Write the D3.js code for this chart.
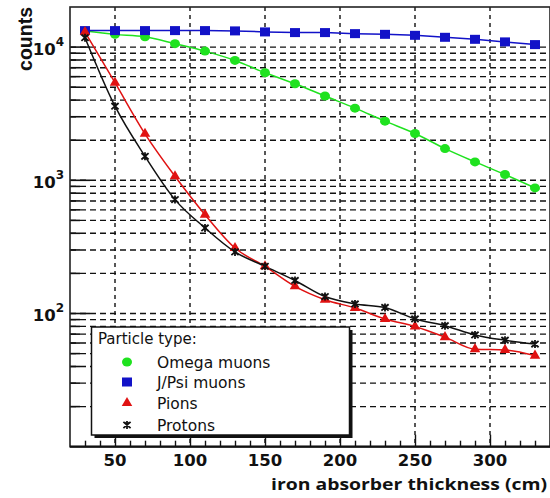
<!DOCTYPE html>
<html><head><meta charset="utf-8">
<script src="https://cdn.jsdelivr.net/npm/d3@7"></script>
<style>
html,body{margin:0;padding:0;background:#fff;}
svg{display:block;}
</style></head>
<body>
<svg id="chart" width="550" height="498"></svg>
<script>
// ---- data ----
const thickness = [30, 50, 70, 90, 110, 130, 150, 170, 190, 210, 230, 250, 270, 290, 310, 330];
const omegaMuons = [13200, 12460, 11970, 10610, 9330, 7940, 6420, 5310, 4290, 3480, 2780, 2245, 1730, 1375, 1105, 877];
const jpsiMuons = [13300, 13300, 13300, 13300, 13300, 13230, 13000, 12850, 12850, 12620, 12470, 12260, 11845, 11440, 10940, 10440];
const pions = [12970, 5400, 2234, 1072, 552, 310, 226, 160, 127, 110, 91, 80, 66.5, 54, 53.3, 48.3];
const protons = [11770, 3600, 1515, 716, 439, 290, 226, 177, 134, 118, 111, 91, 81, 69, 63, 59];
const xTickLabels = [50, 100, 150, 200, 250, 300];
const yTickLabels = [100, 1000, 10000];
const seriesNames = ["Omega muons", "J/Psi muons", "Pions", "Protons"];
const seriesColors = ["#1fe21f", "#1212c8", "#e01212", "#111111"];
const legendTitle = "Particle type:";
const xTitle = "iron absorber thickness (cm)";
const yTitle = "counts";

const svg = d3.select("#chart");
const L = 70, R = 550, T = 7, B = 446.7;
const x = d3.scaleLinear().domain([20, 340]).range([L, R]);
const y = d3.scaleLog().domain([10, 20000]).range([B, T]);

// minor log values
const logVals = [];
for (let d = 10; d <= 10000; d *= 10) for (let k = 1; k <= 9; k++) { const v = d * k; if (v > 10 && v <= 20000) logVals.push(v); }
logVals.push(20000);

const grid = svg.append("g");
grid.selectAll("line.h").data(logVals.filter(v => v < 20000)).join("line")
  .attr("x1", L).attr("x2", R).attr("y1", d => y(d)).attr("y2", d => y(d))
  .attr("stroke", "#111").attr("stroke-width", 1.4).attr("stroke-dasharray", "6,4");
grid.selectAll("line.v").data(xTickLabels).join("line")
  .attr("x1", d => x(d)).attr("x2", d => x(d)).attr("y1", T).attr("y2", B)
  .attr("stroke", "#111").attr("stroke-width", 1.4).attr("stroke-dasharray", "4,4");

// y ticks inward
const yg = svg.append("g").attr("transform", `translate(${L},0)`);
yg.selectAll("line").data(logVals.filter(v => v < 20000)).join("line")
  .attr("x1", 0).attr("x2", d => yTickLabels.includes(d) ? 20 : 10)
  .attr("y1", d => y(d)).attr("y2", d => y(d)).attr("stroke", "#111").attr("stroke-width", 1.6);

// x ticks inward
const xMinor = d3.range(30, 341, 10);
const xg = svg.append("g").attr("transform", `translate(0,${B})`);
xg.call(d3.axisTop(x).tickValues(xMinor).tickSize(6).tickFormat(""))
  .call(g => g.select(".domain").remove())
  .call(g => g.selectAll(".tick line").attr("stroke", "#111").attr("stroke-width", 1.4)
    .attr("y2", d => xTickLabels.includes(d) ? -12 : -6));
xg.selectAll("text.xl").data(xTickLabels).join("text")
  .attr("x", d => x(d)).attr("y", 19.5)
  .attr("text-anchor", "middle")
  .attr("font-family", "DejaVu Sans").attr("font-weight", "bold").attr("font-size", 16.5)
  .attr("fill", "#111").text(d => d);

// y labels 10^n
const ylab = svg.append("g");
yTickLabels.forEach(v => {
  const t = ylab.append("text").attr("x", 64).attr("y", y(v) + 7.5)
    .attr("text-anchor", "end").attr("font-family", "DejaVu Sans").attr("font-weight", "bold")
    .attr("font-size", 16.5).attr("fill", "#111");
  t.append("tspan").text("10");
  t.append("tspan").attr("font-size", 12).attr("dy", -9).text(Math.round(Math.log10(v)));
});

// frame
svg.append("rect").attr("x", L).attr("y", T).attr("width", R - L).attr("height", B - T)
  .attr("fill", "none").attr("stroke", "#222").attr("stroke-width", 1.6);
svg.append("line").attr("x1", L).attr("x2", R).attr("y1", B).attr("y2", B)
  .attr("stroke", "#111").attr("stroke-width", 2.2);

// titles
svg.append("text").attr("transform", `translate(32,${T})rotate(-90)`)
  .attr("text-anchor", "end").attr("font-family", "Liberation Sans").attr("font-weight", "bold")
  .attr("font-size", 19.5).attr("fill", "#111").text(yTitle);
svg.append("text").attr("x", 271).attr("y", 489.5)
  .attr("font-family", "Open Sans").attr("font-weight", "bold").attr("font-size", 16.5)
  .attr("textLength", 276).attr("lengthAdjust", "spacingAndGlyphs")
  .attr("fill", "#111").text(xTitle);

// series
const allSeries = [omegaMuons, jpsiMuons, pions, protons];
const curves = [d3.curveMonotoneX, d3.curveLinear, d3.curveMonotoneX, d3.curveMonotoneX];
const plot = svg.append("g");
allSeries.forEach((vals, i) => {
  const pts = thickness.map((t, j) => [t, vals[j]]);
  plot.append("path").datum(pts)
    .attr("d", d3.line().x(d => x(d[0])).y(d => y(d[1])).curve(curves[i]))
    .attr("fill", "none").attr("stroke", seriesColors[i]).attr("stroke-width", 1.5);
});

function drawMarker(g, i, cx, cy) {
  const c = seriesColors[i];
  if (i === 0) g.append("ellipse").attr("cx", cx).attr("cy", cy).attr("rx", 5).attr("ry", 4.5).attr("fill", c);
  else if (i === 1) g.append("rect").attr("x", cx - 5).attr("y", cy - 4.5).attr("width", 10).attr("height", 9).attr("fill", c);
  else if (i === 2) g.append("path").attr("transform", `translate(${cx},${cy})`)
    .attr("d", d3.symbol().type(d3.symbolTriangle).size(48)()).attr("fill", c);
  else {
    g.append("path").attr("transform", `translate(${cx},${cy})`)
      .attr("d", "M0,-4L0,4M-3.6,-3.2L3.6,3.2M3.6,-3.2L-3.6,3.2M-2.5,-2.5L0,0L2.5,-2.5")
      .attr("stroke", c).attr("stroke-width", 1.8).attr("fill", "none");
  }
}
allSeries.forEach((vals, i) => {
  const g = plot.append("g");
  thickness.forEach((t, j) => drawMarker(g, i, x(t), y(vals[j])));
});

// legend
const lg = svg.append("g");
lg.append("rect").attr("x", 94.5).attr("y", 330).attr("width", 258).attr("height", 108).attr("fill", "#111");
lg.append("rect").attr("x", 91.5).attr("y", 327).attr("width", 258).attr("height", 108)
  .attr("fill", "#fff").attr("stroke", "#111").attr("stroke-width", 1.5);
lg.append("text").attr("x", 98).attr("y", 344).attr("font-family", "DejaVu Sans").attr("font-size", 15)
  .attr("fill", "#111").text(legendTitle);
const legY = [362, 382, 403, 425];
seriesNames.forEach((n, i) => {
  drawMarker(lg, i, 127, legY[i]);
  lg.append("text").attr("x", 157).attr("y", legY[i] + 5.5).attr("font-family", "DejaVu Sans")
    .attr("font-size", 15.5).attr("fill", "#111").text(n);
});
</script>
</body></html>
